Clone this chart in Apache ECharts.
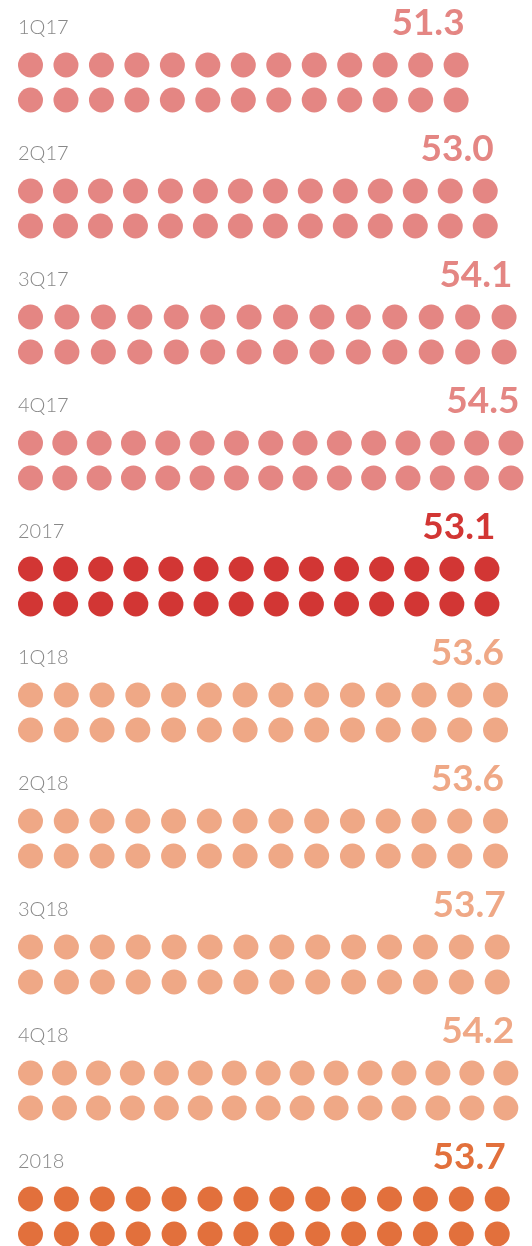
<!DOCTYPE html>
<html>
<head>
<meta charset="utf-8">
<title>dots</title>
<script src="https://cdn.jsdelivr.net/npm/echarts@6/dist/echarts.min.js"></script>
<style>
    html, body { margin: 0; padding: 0; background: #fff; }
    #main { width: 532px; height: 1246px; }
</style>
</head>
<body>
<div id="main"></div>
<script>
// 数据
var periods = ['1Q17', '2Q17', '3Q17', '4Q17', '2017', '1Q18', '2Q18', '3Q18', '4Q18', '2018'];
var values = [51.3, 53.0, 54.1, 54.5, 53.1, 53.6, 53.6, 53.7, 54.2, 53.7];

// 颜色：季度浅色，年度深色
var pink = '#e48683', red = '#d23634', peach = '#efa886', orange = '#e2703c';
var rowColors = [pink, pink, pink, pink, red, peach, peach, peach, peach, orange];

(function () {
    var myChart = echarts.init(document.getElementById('main'));

    var xMin = 25, xMax = 55;
    var dotSize = 25;   // 圆点直径
    var dotGap = 8.9;   // 圆点之间最小间距
    var rowGap = 35;    // 两排圆点的中心距

    // 每一行：从轴起点到数值位置，铺满两排圆点，右上角写数值
    function renderRow(params, api) {
        var idx = api.value(1);
        var start = api.coord([xMin, idx]);
        var end = api.coord([api.value(0), idx]);
        var len = end[0] - start[0];
        var n = Math.max(Math.floor((len + dotGap) / (dotSize + dotGap)), 1);
        var step = n > 1 ? (len - dotSize) / (n - 1) : 0;
        var color = api.visual('color');
        var children = [];
        for (var r = 0; r < 2; r++) {
            var cy = start[1] - rowGap / 2 + r * rowGap;
            for (var j = 0; j < n; j++) {
                children.push({
                    type: 'circle',
                    shape: { cx: start[0] + dotSize / 2 + j * step, cy: cy, r: dotSize / 2 },
                    style: { fill: color }
                });
            }
        }
        children.push({
            type: 'text',
            x: end[0] - 4,
            y: start[1] - rowGap / 2 - 42,
            style: {
                text: api.value(0).toFixed(1),
                align: 'right',
                verticalAlign: 'middle',
                fill: color,
                fontSize: 37,
                fontWeight: 'bold',
                fontFamily: 'Lato'
            }
        });
        return { type: 'group', children: children };
    }

    var option = {
        backgroundColor: '#fff',
        animation: false,
        grid: {
            left: 18,
            right: 0,
            top: 82.5,
            bottom: 29.5,
            outerBoundsMode: 'none'
        },
        xAxis: {
            type: 'value',
            min: xMin,
            max: xMax,
            show: false
        },
        yAxis: {
            type: 'category',
            data: periods,
            inverse: true,
            boundaryGap: false,
            axisLine: { show: false },
            axisTick: { show: false },
            splitLine: { show: false },
            axisLabel: {
                inside: true,
                interval: 0,
                margin: 0,
                align: 'left',
                verticalAlign: 'bottom',
                padding: [0, 0, 44.5, 0],
                color: '#888',
                fontSize: 20,
                fontWeight: 300,
                fontFamily: 'Lato'
            }
        },
        series: [
            {
                type: 'custom',
                silent: true,
                renderItem: renderRow,
                encode: { x: 0, y: 1 },
                data: values.map(function (v, i) {
                    return { value: [v, i], itemStyle: { color: rowColors[i] } };
                })
            }
        ]
    };

    myChart.setOption(option);
})();
</script>
</body>
</html>
